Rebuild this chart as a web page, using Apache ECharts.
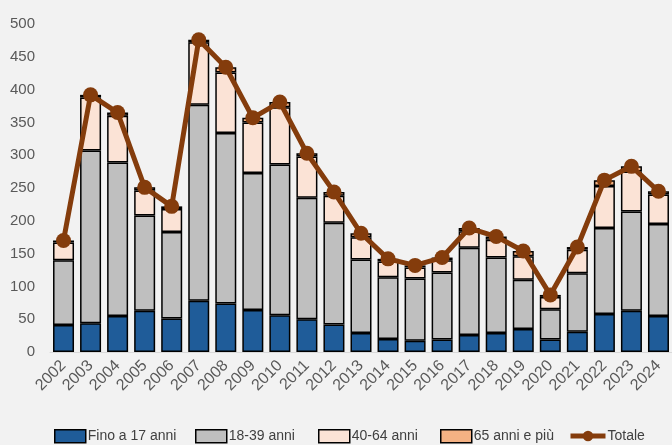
<!DOCTYPE html>
<html>
<head>
<meta charset="utf-8">
<script src="https://cdn.jsdelivr.net/npm/echarts@6/dist/echarts.min.js"></script>
<style>
  html, body { margin: 0; padding: 0; background: #F2F2F2; }
  #chart { width: 672px; height: 445px; }
</style>
</head>
<body>
<div id="chart"></div>
<script>
// Anni di riferimento
const years = ['2002','2003','2004','2005','2006','2007','2008','2009','2010','2011','2012',
  '2013','2014','2015','2016','2017','2018','2019','2020','2021','2022','2023','2024'];

// Classi di età (valori assoluti)
const fino17   = [41, 44, 55, 63, 51, 78, 74, 64, 56, 50, 42, 29, 20, 17, 19, 26, 29, 35, 19, 31, 58, 63, 55];
const anni1839 = [99, 263, 234, 145, 132, 299, 260, 209, 230, 185, 155, 112, 94, 95, 102, 133, 115, 75, 46, 89, 131, 151, 140];
const anni4064 = [27, 81, 71, 38, 35, 95, 92, 77, 87, 63, 41, 34, 24, 17, 19, 25, 27, 36, 19, 36, 64, 61, 45];
const anni65   = [3, 4, 5, 5, 4, 4, 8, 7, 8, 5, 6, 6, 4, 3, 4, 5, 5, 8, 3, 4, 9, 8, 5];
const totale   = [170, 392, 365, 251, 222, 476, 434, 357, 381, 303, 244, 181, 142, 132, 144, 189, 176, 154, 87, 160, 262, 283, 245];

const yTicks = { min: 0, max: 500, step: 50 };

const seriesNames = ['Fino a 17 anni', '18-39 anni', '40-64 anni', '65 anni e più', 'Totale'];

const FONT = "'Liberation Sans', Arial, sans-serif";
const TOTALE_COLOR = '#843C0C';

function barSeries(name, data, color) {
  return {
    name: name,
    type: 'bar',
    stack: 'eta',
    data: data,
    barWidth: 21,
    itemStyle: { color: color, borderColor: '#000000', borderWidth: 1.5 }
  };
}

// one legend block per entry, laid out along the bottom edge
const legendLeft = [54, 195, 318, 440, 568];
const legends = seriesNames.map((name, i) => {
  const isLine = name === 'Totale';
  const lg = {
    data: [name],
    left: legendLeft[i],
    top: 429,
    padding: 0,
    itemWidth: isLine ? 35 : 31,
    itemHeight: 13,
    textStyle: { fontFamily: FONT, fontSize: 14, color: '#404040', padding: [0, 0, 0, -3] }
  };
  if (isLine) {
    lg.itemStyle = { color: TOTALE_COLOR };
    lg.lineStyle = { color: TOTALE_COLOR, width: 5 };
  } else {
    lg.icon = 'rect';
    lg.itemStyle = { borderColor: '#000000', borderWidth: 1.5 };
  }
  return lg;
});

const chart = echarts.init(document.getElementById('chart'), null, { renderer: 'canvas' });

chart.setOption({
  backgroundColor: '#F2F2F2',
  animation: false,
  textStyle: { fontFamily: FONT },
  grid: { left: 50, right: -5, top: 24, bottom: 93, containLabel: false },
  legend: legends,
  xAxis: {
    type: 'category',
    data: years,
    axisLine: { show: true, lineStyle: { color: '#D9D9D9', width: 1 } },
    axisTick: { show: false },
    axisLabel: { rotate: 45, fontFamily: FONT, fontSize: 16, color: '#595959', margin: 11, interval: 0 }
  },
  yAxis: {
    type: 'value',
    min: yTicks.min,
    max: yTicks.max,
    interval: yTicks.step,
    splitLine: { show: false },
    axisLine: { show: false },
    axisTick: { show: false },
    axisLabel: { fontFamily: FONT, fontSize: 15, color: '#595959', margin: 15 }
  },
  series: [
    barSeries(seriesNames[0], fino17, '#1F5C99'),
    barSeries(seriesNames[1], anni1839, '#BFBFBF'),
    barSeries(seriesNames[2], anni4064, '#FBE3D6'),
    barSeries(seriesNames[3], anni65, '#F4B183'),
    {
      name: seriesNames[4],
      type: 'line',
      data: totale,
      symbol: 'circle',
      symbolSize: 15,
      lineStyle: { color: TOTALE_COLOR, width: 5 },
      itemStyle: { color: TOTALE_COLOR },
      z: 5
    }
  ]
});
</script>
</body>
</html>
